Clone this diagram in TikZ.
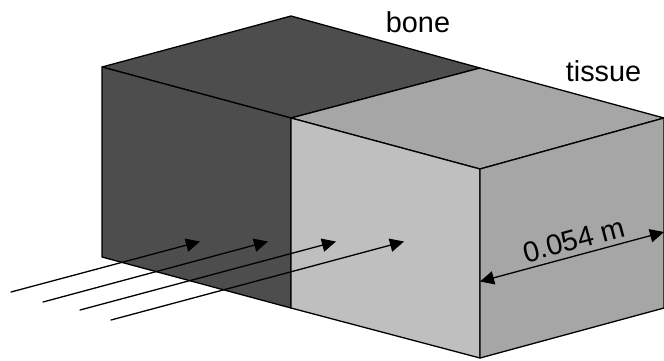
\documentclass[tikz,border=0pt]{standalone}
\usepackage{fontspec}
\setmainfont{Liberation Sans}
\usetikzlibrary{arrows.meta}
\definecolor{bonedark}{HTML}{4D4D4D}
\definecolor{tissuefront}{HTML}{BFBFBF}
\definecolor{tissueside}{HTML}{A6A6A6}
\tikzset{
	ray/.style={line width=.37pt,-{Triangle[length=4pt,width=3.8pt]}},
	gauge/.style={line width=.37pt,{Triangle[length=4pt,width=3.8pt]}-{Triangle[length=4pt,width=3.8pt]}},
	tag/.style={inner sep=0pt,font=\fontsize{8.2pt}{10pt}\selectfont}
}
\begin{document}
\begin{tikzpicture}[line join=round,line cap=round,line width=.37pt,x=.01cm,y=.01cm]
	\useasboundingbox (0,0) rectangle (664,-360);
	\coordinate (A) at (102,-67);
	\coordinate (B) at (291,-16);
	\coordinate (C) at (480,-68);
	\coordinate (D) at (664,-118);
	\coordinate (E) at (291,-118);
	\coordinate (F) at (480,-169);
	\coordinate (G) at (102,-257);
	\coordinate (H) at (291,-308);
	\coordinate (I) at (480,-358);
	\coordinate (J) at (664,-308);
	\filldraw[fill=bonedark] (A)--(B)--(C)--(E)--cycle;
	\filldraw[fill=bonedark] (A)--(E)--(H)--(G)--cycle;
	\filldraw[fill=tissueside] (E)--(C)--(D)--(F)--cycle;
	\filldraw[fill=tissuefront] (E)--(F)--(I)--(H)--cycle;
	\filldraw[fill=tissueside] (F)--(D)--(J)--(I)--cycle;
	\node[tag] (bone) at (418,-22) {bone};
	\node[tag] (tissue) at (603.5,-71) {tissue};
	\coordinate (s1) at (11,-292);
	\coordinate (t1) at (200,-241.5);
	\coordinate (s2) at (43,-302);
	\coordinate (t2) at (268,-241.5);
	\coordinate (s3) at (80,-310);
	\coordinate (t3) at (336,-241.5);
	\coordinate (s4) at (111,-320);
	\coordinate (t4) at (404,-241.5);
	\foreach \i in {1,...,4}
		\draw[ray] (s\i)--(t\i);
	\coordinate (g1) at (480,-281.5);
	\coordinate (g2) at (664,-232);
	\draw[gauge] (g1)--(g2);
	\node[tag,rotate=15] (width) at (574,-240) {0.054 m};
\end{tikzpicture}
\end{document}
